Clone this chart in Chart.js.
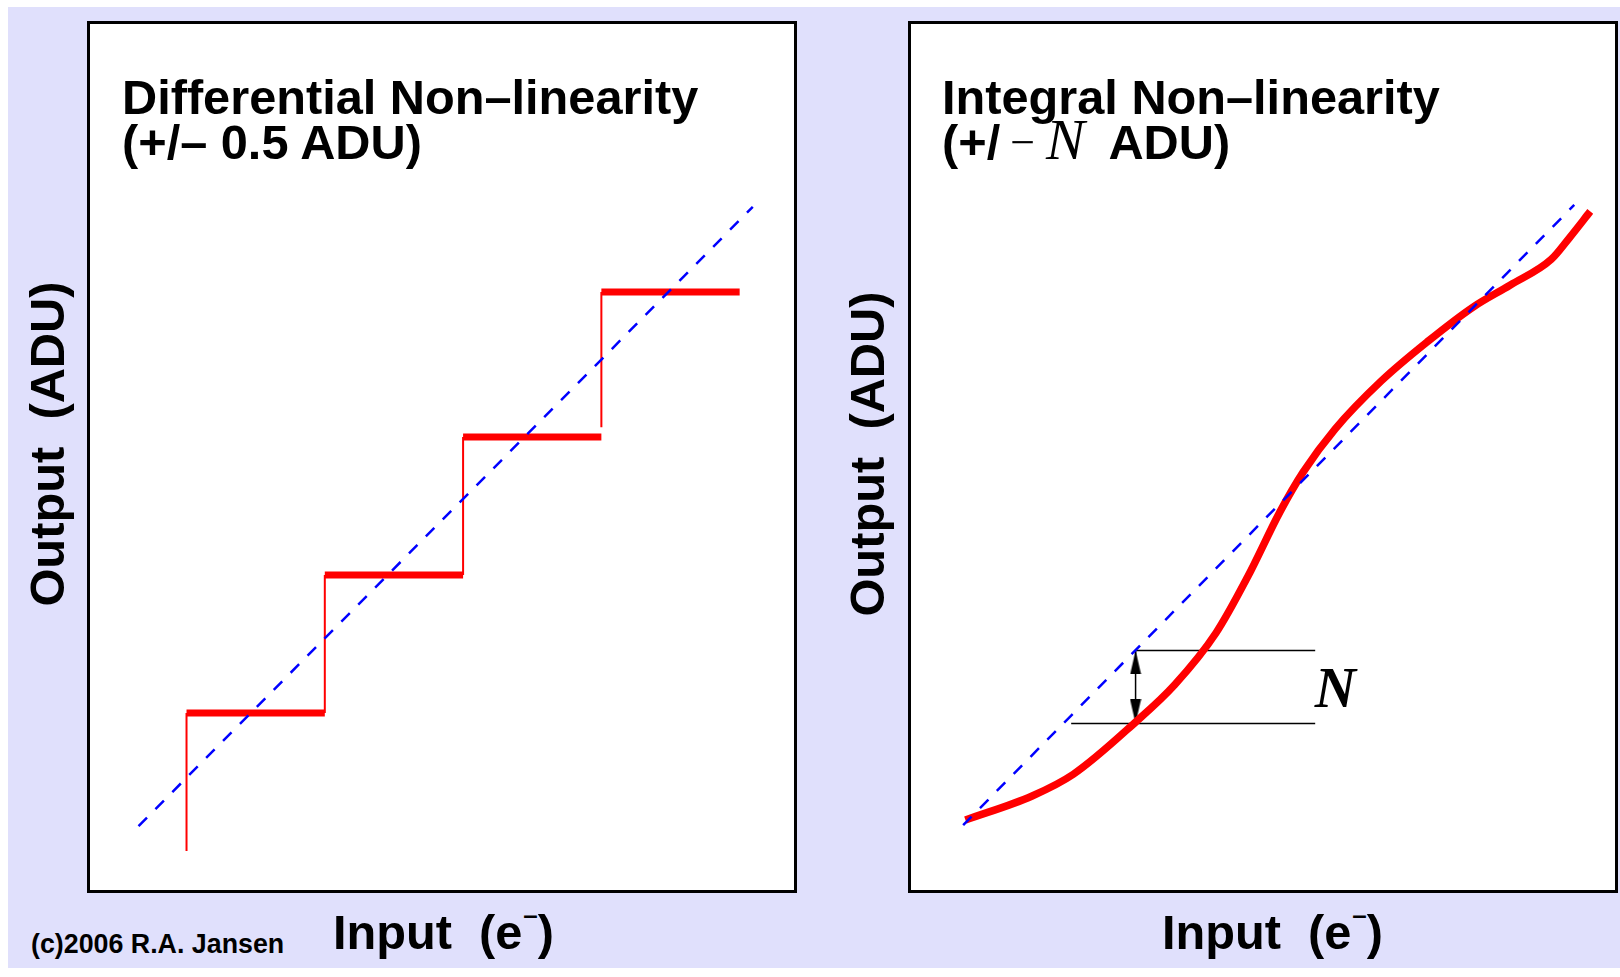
<!DOCTYPE html>
<html>
<head>
<meta charset="utf-8">
<title>Differential and Integral Non-linearity</title>
<script src="https://cdn.jsdelivr.net/npm/chart.js@4.4.1/dist/chart.umd.min.js"></script>
<style>
  html, body { margin: 0; padding: 0; background: #fff; }
  #page {
    position: relative; width: 1620px; height: 977px; overflow: hidden;
    font-family: "Liberation Sans", Arial, Helvetica, sans-serif; font-weight: bold; color: #000;
  }
  #sheet { position: absolute; left: 8px; top: 7px; width: 1612px; height: 961px; background: #e0e0fc; }
  .panel { position: absolute; top: 21px; width: 704px; height: 866px; border: 3px solid #000; background: #fff; }
  .panel canvas { display: block; }
  .txt { position: absolute; white-space: pre; line-height: 1; }
  .title { font-size: 48.7px; }
  .xlab { font-size: 48.7px; }
  .ylab { font-size: 48.8px; transform: translate(-50%, -50%) rotate(-90deg); }
  .sup { font-size: 26px; line-height: 0; position: relative; top: -25px; margin-left: 1px; }
  .mminus { font-family: "Liberation Serif", "Times New Roman", serif; font-weight: normal; font-size: 44px; line-height: 0; margin: 0 11px 0 10px; position: relative; top: -2px; }
  .mN { font-family: "Liberation Serif", "Times New Roman", serif; font-weight: normal; font-style: italic; font-size: 58px; line-height: 0; margin-right: 12px; }
  #nlabel { font-family: "Liberation Serif", "Times New Roman", serif; font-style: italic; font-weight: bold; font-size: 57px; transform: translate(-50%, -50%); }
  #copy { font-size: 26.8px; left: 31px; top: 931px; }
</style>
</head>
<body>
<div id="page">
  <div id="sheet"></div>

  <div class="panel" style="left:87px"><canvas id="dnlChart" width="704" height="866"></canvas></div>
  <div class="panel" style="left:908px"><canvas id="inlChart" width="704" height="866"></canvas></div>

  <!-- titles -->
  <div class="txt title" style="left:122px; top:73px">Differential Non–linearity</div>
  <div class="txt title" style="left:122px; top:118px">(+/– 0.5 ADU)</div>
  <div class="txt title" style="left:942px; top:73px">Integral Non–linearity</div>
  <div class="txt title" style="left:942px; top:118px">(+/<span class="mminus">−</span><span class="mN">N</span> ADU)</div>

  <!-- axis labels -->
  <div class="txt ylab" style="left:47px; top:444px">Output  (ADU)</div>
  <div class="txt ylab" style="left:867px; top:454px">Output  (ADU)</div>
  <div class="txt xlab" style="left:333px; top:908px">Input  (e<span class="sup">–</span>)</div>
  <div class="txt xlab" style="left:1162px; top:908px">Input  (e<span class="sup">–</span>)</div>

  <div class="txt" id="copy">(c)2006 R.A. Jansen</div>
  <div class="txt" id="nlabel">N</div>
</div>

<script>
// ---- left panel: staircase transfer function (input in LSB, output in ADU)
const dnlEdges = [1, 2, 3, 4, 5];               // input where each code starts / ends
const dnlLevels = [1.00, 2.00, 3.00, 4.05];     // output code of each tread
const dnlRiserFrom = [0.00, 1.00, 2.00, 3.07];  // lower end of each riser
const dnlIdealX = [0.653, 5.095];
const dnlIdealY = [0.180, 4.667];

// ---- right panel: smooth transfer curve vs ideal line
const inlX = [0.660, 1.152, 1.456, 1.915, 2.202, 2.508, 2.743, 2.982, 3.151,
              3.388, 3.728, 4.067, 4.405, 4.677, 4.982, 5.117, 5.269];
const inlY = [0.181, 0.358, 0.518, 0.902, 1.175, 1.558, 1.974, 2.454, 2.743,
              3.062, 3.415, 3.703, 3.959, 4.120, 4.311, 4.471, 4.663];
const inlIdealX = [0.643, 5.151];
const inlIdealY = [0.143, 4.711];

// N marker: arrow between ideal line and curve, plus two guide lines
const nArrowX = 1.915;
const nArrowY = [0.892, 1.430];
const nGuideStart = [1.915, 1.440];   // upper, lower
const nGuideEnd = 3.240;
const nLabelPos = [3.389, 1.157];

// axis windows (the plot boxes carry no ticks)
const dnlXRange = [0.302, 5.393];
const inlXRange = [0.310, 5.400];
const yRange = [-0.283, 5.992];

const RED = '#ff0000';
const BLUE = '#0000ff';

function pairs(xs, ys) {
    return xs.map((x, i) => ({ x: x, y: ys[i] }));
}

function options(xr) {
    return {
        responsive: false,
        animation: false,
        events: [],
        layout: { padding: 0 },
        plugins: { legend: { display: false }, tooltip: { enabled: false } },
        scales: {
            x: { type: 'linear', min: xr[0], max: xr[1], display: false },
            y: { type: 'linear', min: yRange[0], max: yRange[1], display: false }
        },
        elements: { point: { radius: 0 } }
    };
}

// treads and risers, broken apart with null points
const treads = [];
const risers = [];
dnlLevels.forEach((lvl, i) => {
    treads.push({ x: dnlEdges[i], y: lvl }, { x: dnlEdges[i + 1], y: lvl }, { x: dnlEdges[i + 1], y: null });
    risers.push({ x: dnlEdges[i], y: dnlRiserFrom[i] }, { x: dnlEdges[i], y: lvl }, { x: dnlEdges[i], y: null });
});

new Chart(document.getElementById('dnlChart'), {
    type: 'scatter',
    data: {
        datasets: [
            { data: pairs(dnlIdealX, dnlIdealY), showLine: true, borderColor: BLUE, borderWidth: 2.5, borderDash: [12, 12] },
            { data: treads, showLine: true, borderColor: RED, borderWidth: 7, borderCapStyle: 'butt', spanGaps: false },
            { data: risers, showLine: true, borderColor: RED, borderWidth: 2, spanGaps: false }
        ]
    },
    options: options(dnlXRange)
});

// arrowhead: tip at the canvas centre, body below it
const head = document.createElement('canvas');
head.width = 12;
head.height = 48;
const hc = head.getContext('2d');
hc.fillStyle = '#000';
hc.beginPath();
hc.moveTo(6, 24);
hc.lineTo(11.5, 48);
hc.lineTo(0.5, 48);
hc.closePath();
hc.fill();

const guides = [
    { x: nGuideStart[0], y: nArrowY[1] }, { x: nGuideEnd, y: nArrowY[1] }, { x: nGuideEnd, y: null },
    { x: nGuideStart[1], y: nArrowY[0] }, { x: nGuideEnd, y: nArrowY[0] }
];

const inl = new Chart(document.getElementById('inlChart'), {
    type: 'scatter',
    data: {
        datasets: [
            { data: pairs(inlIdealX, inlIdealY), showLine: true, borderColor: BLUE, borderWidth: 2.5, borderDash: [12, 12] },
            { data: pairs(inlX, inlY), showLine: true, borderColor: RED, borderWidth: 7.5, cubicInterpolationMode: 'monotone' },
            { data: guides, showLine: true, borderColor: '#000', borderWidth: 1.5, spanGaps: false },
            { data: [{ x: nArrowX, y: nArrowY[0] }, { x: nArrowX, y: nArrowY[1] }], showLine: true, borderColor: '#000', borderWidth: 1.5 },
            {
                data: [{ x: nArrowX, y: nArrowY[1] }, { x: nArrowX, y: nArrowY[0] }],
                showLine: false, pointStyle: head, pointRadius: 6, pointRotation: [0, 180]
            }
        ]
    },
    options: options(inlXRange)
});

// put the N label at its data position
const cv = document.getElementById('inlChart');
const nl = document.getElementById('nlabel');
nl.style.left = (cv.parentElement.offsetLeft + 3 + inl.scales.x.getPixelForValue(nLabelPos[0])) + 'px';
nl.style.top = (cv.parentElement.offsetTop + 3 + inl.scales.y.getPixelForValue(nLabelPos[1])) + 'px';
</script>
</body>
</html>
